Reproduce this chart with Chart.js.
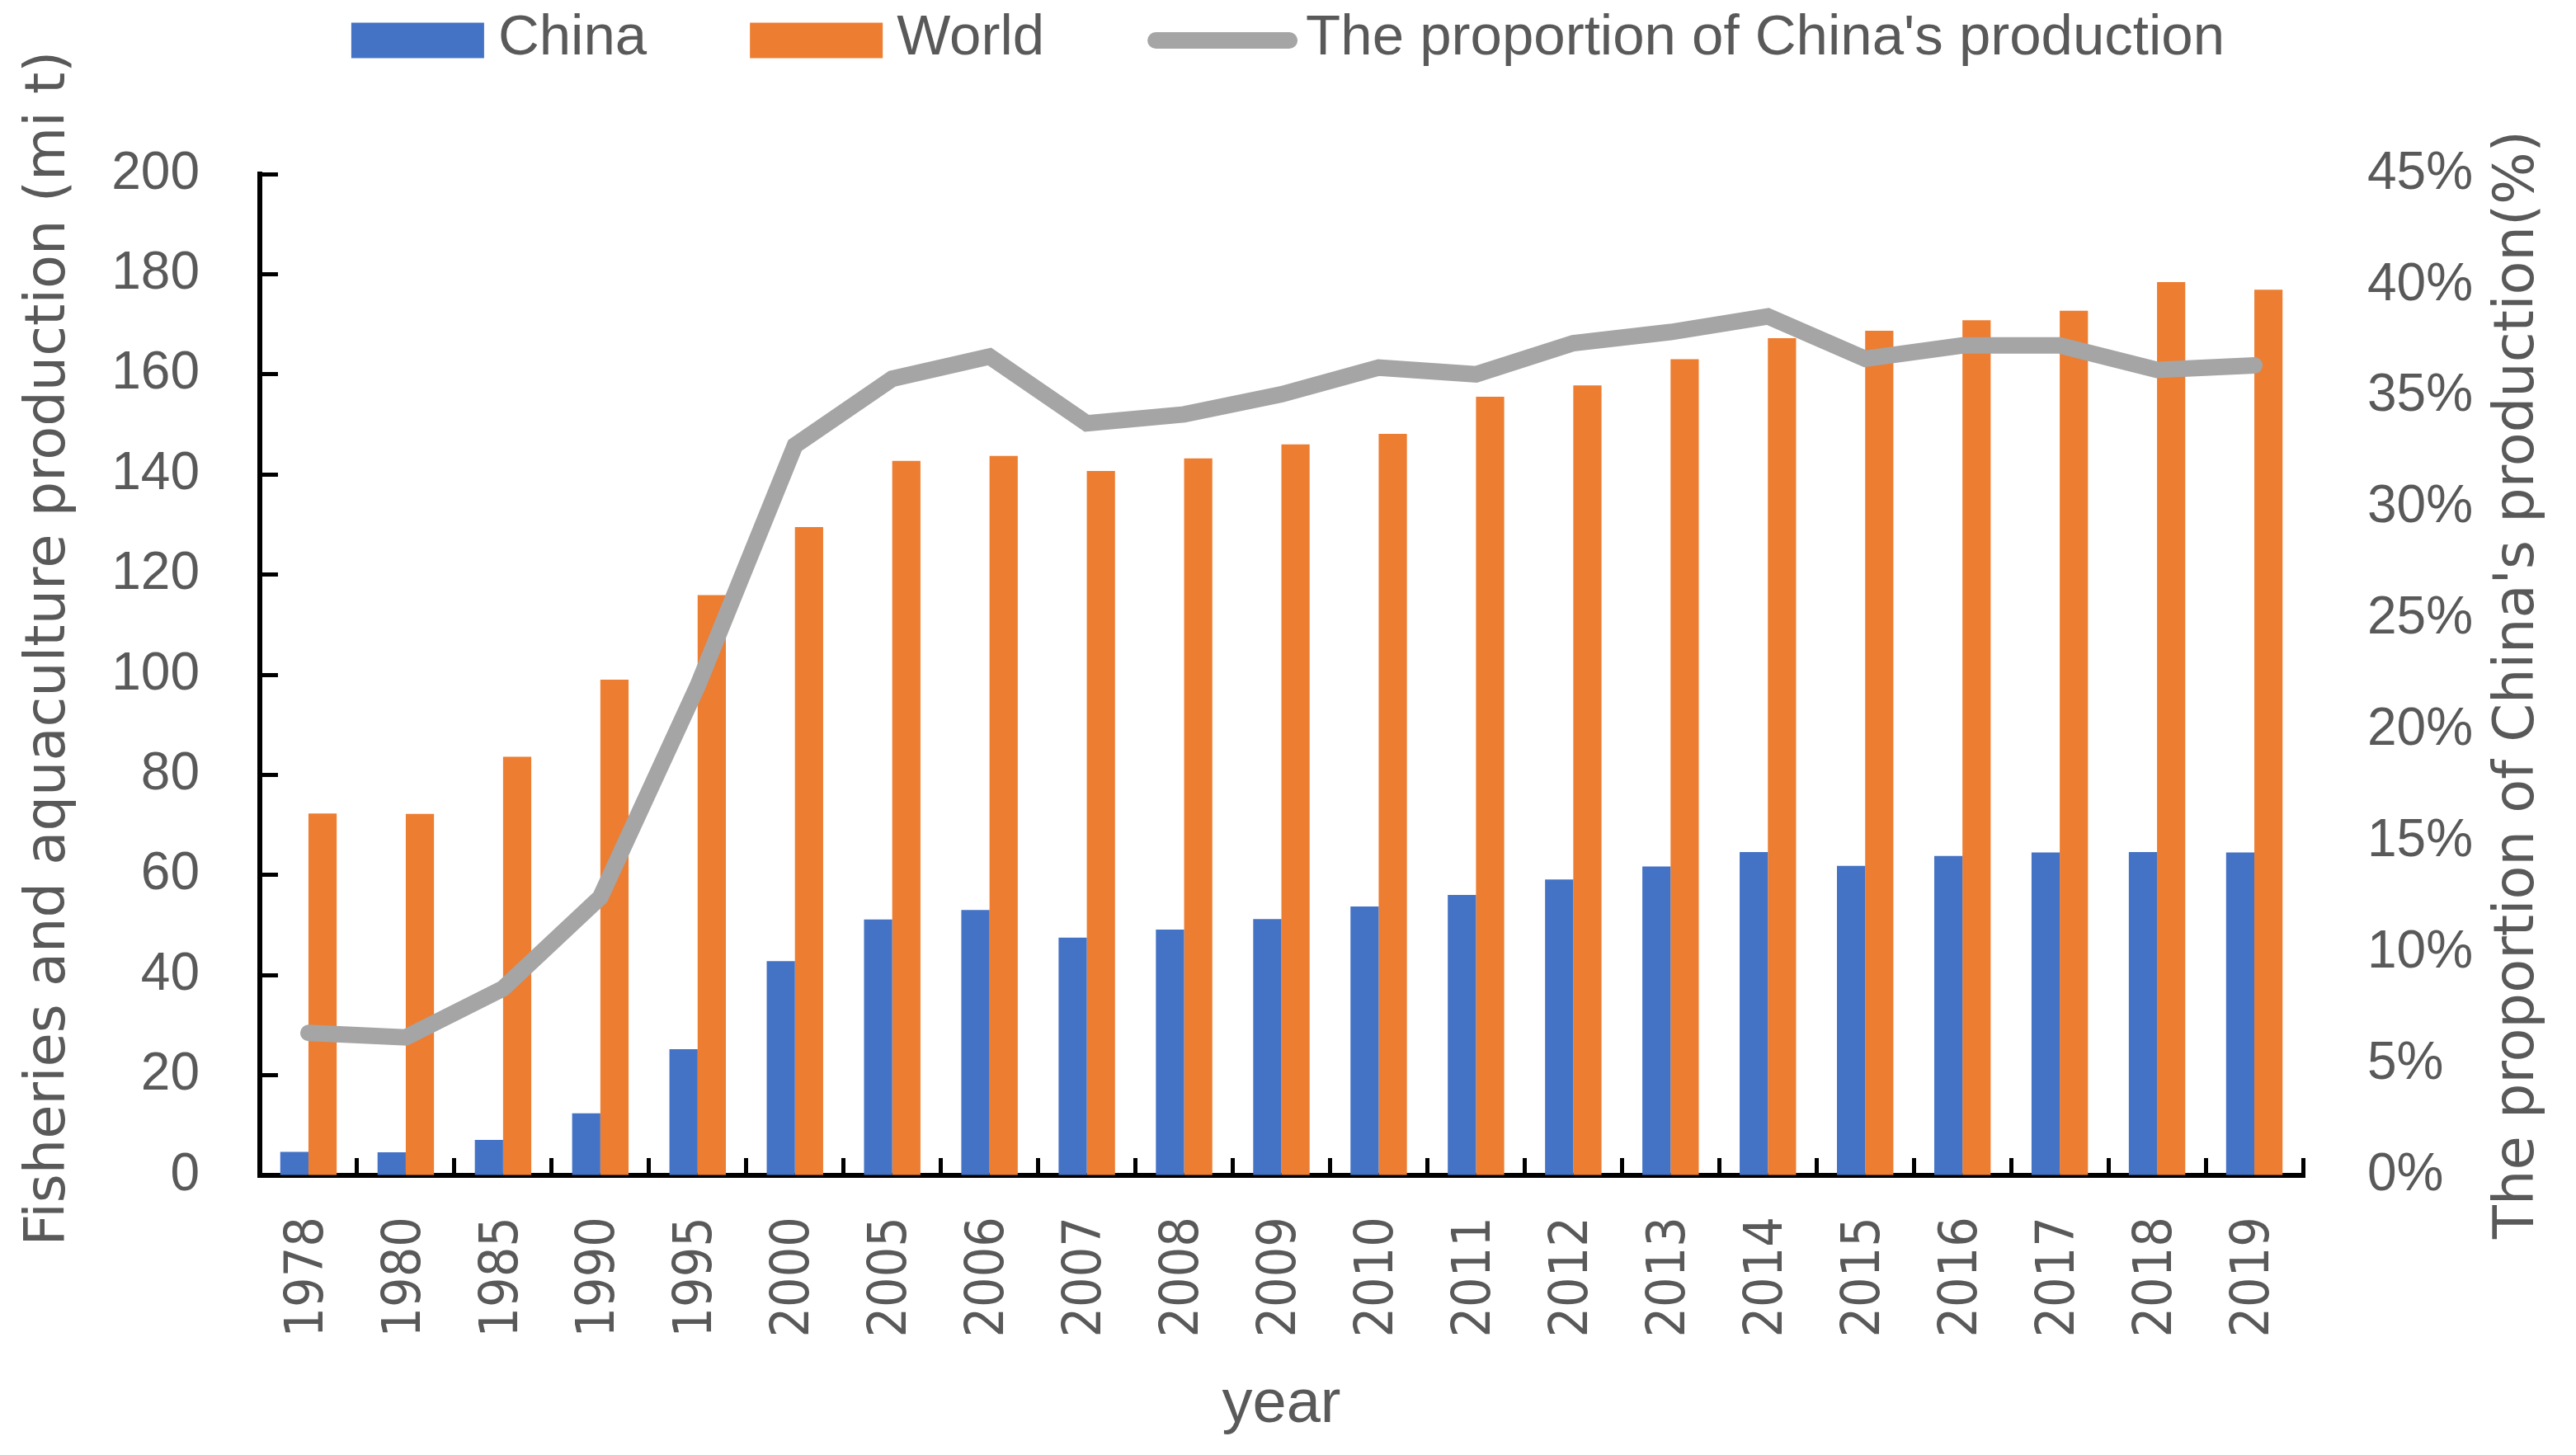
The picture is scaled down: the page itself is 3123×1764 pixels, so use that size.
<!DOCTYPE html>
<html>
<head>
<meta charset="utf-8">
<script src="https://cdn.jsdelivr.net/npm/chart.js@4.4.1/dist/chart.umd.min.js"></script>
<style>
  html, body { margin: 0; padding: 0; background: #ffffff; }
  #wrap { width: 3123px; height: 1764px; }
</style>
</head>
<body>
<div id="wrap"><canvas id="c" width="3123" height="1764"></canvas></div>
<script>
// ---- data ----
const years = ['1978','1980','1985','1990','1995','2000','2005','2006','2007','2008','2009',
               '2010','2011','2012','2013','2014','2015','2016','2017','2018','2019'];
const chinaProduction = [4.7, 4.6, 7.1, 12.4, 25.2, 42.8, 51.1, 53.0, 47.5, 49.1, 51.2,
                         53.7, 56.0, 59.1, 61.7, 64.6, 61.8, 63.8, 64.5, 64.6, 64.5];
const worldProduction = [72.3, 72.2, 83.6, 99.0, 115.9, 129.5, 142.7, 143.7, 140.7, 143.2, 146.0,
                         148.1, 155.5, 157.8, 163.0, 167.2, 168.7, 170.8, 172.7, 178.4, 176.9];
const chinaShare = [6.4, 6.2, 8.4, 12.5, 22.0, 32.8, 35.8, 36.8, 33.8, 34.2, 35.1,
                    36.3, 36.0, 37.4, 37.9, 38.6, 36.7, 37.3, 37.3, 36.2, 36.4];
const leftTickValues = [0, 20, 40, 60, 80, 100, 120, 140, 160, 180, 200];
const rightTickValues = [0, 5, 10, 15, 20, 25, 30, 35, 40, 45];
const seriesNames = ['China', 'World', "The proportion of China's production"];
const leftTitle = 'Fisheries and aquaculture production (mi t)';
const rightTitle = "The proportion of China's production(%)";
const xTitle = 'year';

const TEXT = '#595959';
const TICK_FONT = '"Liberation Sans", Arial, sans-serif';
const WIDE_FONT = '"DejaVu Sans", Verdana, sans-serif';

const legendAndTitles = {
  id: 'legendAndTitles',
  afterDraw(chart) {
    const ctx = chart.ctx;
    const area = chart.chartArea;
    ctx.save();
    // axis titles (both read bottom-to-top)
    ctx.fillStyle = TEXT;
    ctx.font = '67px ' + WIDE_FONT;
    ctx.textAlign = 'center';
    ctx.textBaseline = 'middle';
    ctx.save();
    ctx.translate(area.left - 254, area.top + (area.bottom - area.top) / 2 - 32);
    ctx.rotate(-Math.PI / 2);
    ctx.fillText(leftTitle, 0, 0);
    ctx.restore();
    ctx.save();
    ctx.translate(area.right + 262, area.top + (area.bottom - area.top) / 2 + 12);
    ctx.rotate(-Math.PI / 2);
    ctx.fillText(rightTitle, 0, 0);
    ctx.restore();

    // legend
    ctx.font = '69px ' + TICK_FONT;
    const items = chart.data.datasets.map(ds => ({
      text: ds.label,
      line: ds.type === 'line',
      color: ds.type === 'line' ? ds.borderColor : ds.backgroundColor
    }));
    const widths = items.map(it => (it.line ? 192 : 178) + ctx.measureText(it.text).width);
    const gap = 125;
    const total = widths.reduce((a, b) => a + b, 0) + gap * (items.length - 1);
    let x = chart.width / 2 - total / 2;
    const cy = 49;
    items.forEach((it, i) => {
      let tx;
      if (it.line) {
        ctx.strokeStyle = it.color;
        ctx.lineWidth = 20;
        ctx.lineCap = 'round';
        ctx.beginPath();
        ctx.moveTo(x + 10, cy);
        ctx.lineTo(x + 172, cy);
        ctx.stroke();
        tx = x + 192;
      } else {
        ctx.fillStyle = it.color;
        ctx.fillRect(x, cy - 21.5, 161, 43);
        tx = x + 178;
      }
      ctx.fillStyle = TEXT;
      ctx.textAlign = 'left';
      ctx.textBaseline = 'middle';
      ctx.fillText(it.text, tx, cy - 2);
      x += widths[i] + gap;
    });
    ctx.restore();
  }
};

new Chart(document.getElementById('c'), {
  data: {
    labels: years,
    datasets: [
      {
        type: 'bar', label: seriesNames[0], data: chinaProduction, yAxisID: 'y',
        backgroundColor: '#4472C4', borderWidth: 0,
        categoryPercentage: 0.58, barPercentage: 1.0, order: 2
      },
      {
        type: 'bar', label: seriesNames[1], data: worldProduction, yAxisID: 'y',
        backgroundColor: '#ED7D31', borderWidth: 0,
        categoryPercentage: 0.58, barPercentage: 1.0, order: 2
      },
      {
        type: 'line', label: seriesNames[2], data: chinaShare, yAxisID: 'y1',
        borderColor: '#A5A5A5', backgroundColor: '#A5A5A5', borderWidth: 20,
        borderCapStyle: 'round', borderJoinStyle: 'miter', tension: 0,
        pointRadius: 0, pointHoverRadius: 0, fill: false, order: 0
      }
    ]
  },
  options: {
    responsive: false,
    maintainAspectRatio: false,
    devicePixelRatio: 1,
    animation: false,
    events: [],
    layout: { padding: { top: 211, left: 0, right: 0, bottom: 0 } },
    plugins: {
      legend: { display: false },
      tooltip: { enabled: false },
      title: { display: false }
    },
    scales: {
      x: {
        type: 'category',
        position: 'bottom',
        offset: true,
        grid: {
          display: true, drawOnChartArea: false, drawTicks: true, offset: true,
          tickLength: -21, tickWidth: 5, tickColor: '#000000'
        },
        border: { display: true, color: '#000000', width: 6 },
        ticks: {
          autoSkip: false, maxRotation: 90, minRotation: 90, padding: 71,
          color: TEXT, font: { family: '"DejaVu Sans Condensed", "DejaVu Sans", sans-serif', size: 64 }
        },
        title: {
          display: true, text: xTitle, color: TEXT,
          font: { family: TICK_FONT, size: 74 }, padding: { top: 0, bottom: 16 }
        },
        afterFit(scale) { scale.height = 339; }
      },
      y: {
        type: 'linear',
        position: 'left',
        min: 0, max: 200,
        afterBuildTicks(scale) { scale.ticks = leftTickValues.map(v => ({ value: v })); },
        grid: {
          display: true, drawOnChartArea: false, drawTicks: true,
          tickLength: -22, tickWidth: 5, tickColor: '#000000'
        },
        border: { display: true, color: '#000000', width: 6 },
        ticks: {
          padding: 95, color: TEXT, font: { family: TICK_FONT, size: 64 }
        },
        title: { display: false },
        afterFit(scale) { scale.width = 315; }
      },
      y1: {
        type: 'linear',
        position: 'right',
        min: 0, max: 45,
        afterBuildTicks(scale) { scale.ticks = rightTickValues.map(v => ({ value: v })); },
        grid: { display: false, drawOnChartArea: false },
        border: { display: false },
        ticks: {
          padding: 70, color: TEXT, font: { family: TICK_FONT, size: 64 },
          callback: v => v + '%'
        },
        title: { display: false },
        afterFit(scale) { scale.width = 331; }
      }
    }
  },
  plugins: [legendAndTitles]
});
</script>
</body>
</html>
